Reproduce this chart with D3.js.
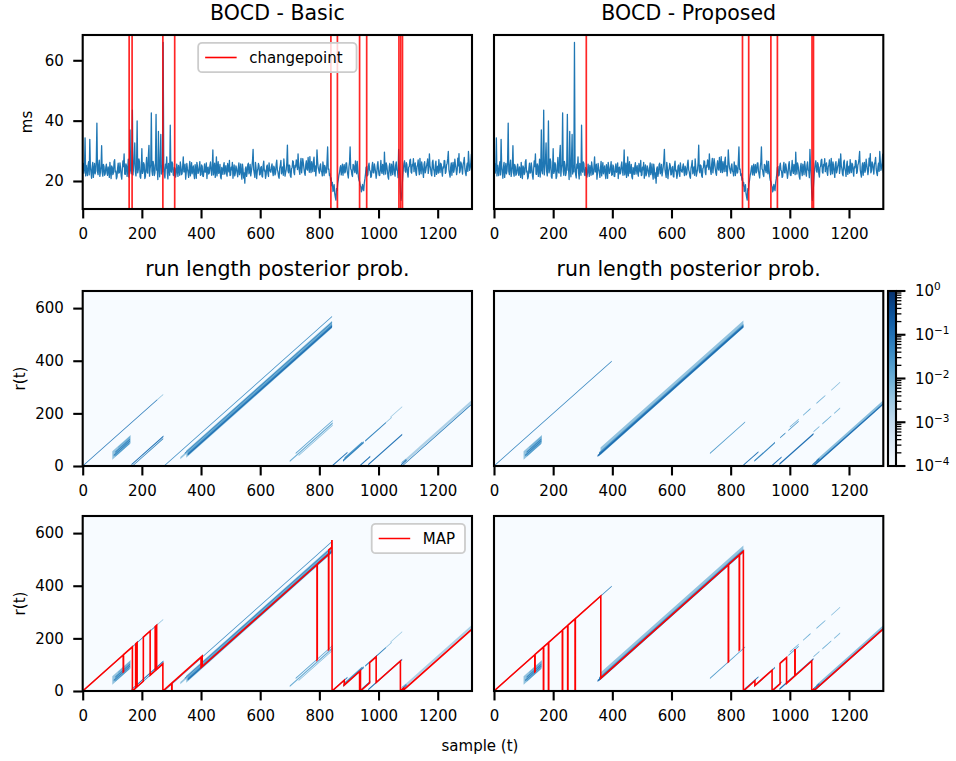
<!DOCTYPE html>
<html><head><meta charset="utf-8">
<script src="https://cdn.jsdelivr.net/npm/d3@7"></script>
<style>body{margin:0;background:#fff;} svg{display:block;}</style>
</head><body><svg id="chart" width="956" height="761"></svg>
<script>
// ---------------- DATA ----------------
const sampleStep = 2; // one stored value every 2 samples
const latency = [
24.1,25.8,22.6,23.9,34.3,21.7,25.2,23.4,21.8,25.1,26.4,22.0,33.8,24.6,22.9,20.9,24.7,26.2,21.2,23.7,25.8,22.4,23.4,26.8,39.2,23.1,22.1,25.3,26.9,21.5,23.0,24.9,31.7,22.8,21.6,25.5,24.8,21.9,22.3,24.4,
25.6,22.8,21.9,24.7,23.7,21.2,26.2,23.5,20.8,25.0,24.5,22.1,22.7,26.4,27.1,23.0,23.3,20.7,21.4,24.2,25.9,22.6,22.8,26.0,24.3,21.8,20.6,23.9,26.7,24.8,29.0,22.3,22.2,25.7,25.1,21.5,23.6,27.2,21.3,23.8,
36.9,23.5,22.4,25.9,43.5,22.0,24.6,26.8,32.6,23.2,21.7,24.9,39.9,22.7,23.8,27.3,26.3,21.4,20.9,24.0,30.7,22.5,23.1,26.1,25.4,20.8,21.5,24.6,27.8,22.9,22.6,28.4,31.8,21.6,24.2,25.4,42.6,23.3,21.9,26.5,
25.3,21.8,22.7,26.0,42.1,23.6,23.9,20.5,36.4,24.7,21.4,26.9,35.4,22.3,24.8,23.0,65.9,25.2,22.1,21.0,25.6,24.3,28.0,22.6,20.7,25.8,24.4,21.9,38.5,23.4,22.9,26.3,25.7,22.0,21.8,24.5,24.1,21.3,22.5,25.6,
23.6,21.5,25.2,23.8,21.9,26.3,24.7,22.1,22.4,24.9,28.0,23.0,23.1,25.6,20.6,22.8,25.8,24.0,22.9,21.2,24.3,26.5,21.7,23.7,26.1,22.4,23.5,25.0,22.2,20.8,25.4,23.9,20.9,26.2,24.8,22.5,23.0,24.6,26.4,21.9,
22.1,25.3,24.9,21.6,21.5,23.8,25.7,22.9,23.2,26.0,20.8,24.2,24.6,22.3,22.7,25.1,26.3,23.6,21.9,24.7,30.3,22.0,23.4,25.9,21.2,23.3,28.0,21.7,24.1,26.4,22.5,23.1,25.5,21.4,20.7,24.5,23.8,22.2,24.9,26.1,
22.3,24.0,25.1,22.5,21.6,25.8,24.4,23.0,26.8,21.8,22.0,24.6,23.7,26.2,20.9,23.4,25.3,21.7,22.6,25.0,24.2,22.8,21.4,24.3,26.0,22.1,23.1,25.7,22.4,20.6,25.6,23.9,21.0,22.7,19.3,24.1,24.7,21.5,22.8,25.4,
25.9,22.4,23.3,25.5,21.7,23.1,24.6,26.7,30.5,23.8,22.5,21.2,26.2,24.4,20.8,23.0,23.9,25.8,25.1,22.0,22.2,24.5,24.8,21.6,21.3,25.2,26.6,23.3,23.6,20.9,22.0,24.8,25.3,22.6,21.5,26.0,24.0,23.2,22.9,24.7,
25.7,23.1,21.8,24.9,24.3,22.0,22.6,25.6,26.9,23.7,23.0,21.5,20.9,24.3,25.2,26.8,22.4,23.5,24.7,21.9,27.3,24.6,21.6,22.8,23.8,26.1,31.9,23.4,22.7,25.3,25.0,21.7,21.2,24.1,24.5,26.7,26.4,22.9,22.1,25.2,
24.6,27.0,26.2,23.8,29.0,25.1,23.4,22.2,25.8,27.5,22.7,24.8,27.4,25.9,24.1,22.6,21.9,25.4,26.7,23.9,23.6,27.8,25.3,22.9,28.1,24.3,22.8,26.4,24.9,23.1,26.5,27.9,23.2,25.0,21.7,24.2,30.3,26.6,24.4,23.5,
22.6,24.8,25.7,23.3,23.0,21.7,26.3,24.6,21.8,25.2,24.5,22.6,22.9,26.8,31.3,23.9,24.0,21.8,22.4,20.3,21.0,18.4,19.5,16.5,17.2,18.8,15.8,14.6,13.7,17.5,16.9,19.2,20.4,21.9,22.8,24.3,25.1,22.0,23.5,25.6,
21.9,24.2,25.4,22.7,23.1,25.9,26.0,23.4,22.2,21.0,24.6,26.3,31.3,24.0,23.7,22.1,21.5,25.5,25.2,23.6,22.8,26.7,24.1,22.4,26.5,23.8,21.4,20.2,19.8,18.6,18.2,16.4,17.0,18.9,17.6,16.8,19.4,20.7,22.3,24.5,
24.8,21.7,22.0,25.0,25.9,23.6,23.3,21.2,21.6,24.9,26.2,22.8,22.7,25.7,24.4,23.0,20.9,22.5,25.3,26.4,23.5,21.9,21.8,24.1,26.8,23.2,22.5,25.5,24.0,22.1,29.6,24.3,22.3,26.0,25.1,23.4,21.4,20.6,24.7,25.8,
23.2,21.8,25.6,24.0,22.1,26.5,24.9,22.7,21.6,25.3,26.3,23.6,23.4,21.1,30.5,24.8,22.0,16.2,13.6,15.0,18.5,21.7,24.2,25.8,26.7,23.3,22.9,26.1,25.4,22.4,21.3,24.6,24.8,26.9,27.2,23.0,22.6,25.5,25.0,27.4,
23.1,25.2,26.0,22.8,21.9,24.7,25.3,27.0,23.7,22.1,27.5,24.4,22.4,26.3,24.8,23.0,21.2,25.6,26.4,22.7,23.6,24.9,25.8,27.3,22.5,23.9,29.0,25.1,24.1,22.3,21.7,26.2,26.9,24.0,23.3,21.5,25.2,26.6,22.2,24.3,
24.9,22.6,27.1,24.2,22.8,25.9,25.5,23.1,21.6,24.7,24.3,26.8,26.7,22.5,23.0,25.3,25.9,27.4,29.8,23.7,22.4,21.3,24.6,26.0,21.9,24.5,26.2,22.9,23.8,27.2,25.4,24.1,22.1,23.6,27.6,25.0,29.1,22.7,23.4,26.3,
25.7,23.9,22.3,25.4,26.4,27.8,24.0,22.6,21.8,24.8,25.9,23.2,29.8,26.5,23.5,24.4,26.1,28.9,22.7
];
const cpBasic = [157,167,271,311,839,861,936,960,1069,1075,1081];
const cpProposed = [312,840,861,936,958,1075,1080];

// run-length posterior streaks: [run start, t from, t to, probability, half spread (run units)]
const heatBasic = [
[300,330,360,0.004,4],[305,350,843,0.004,14],[309,355,843,0.02,7],[297,345,843,0.04,2.5],
[0,252,272,0.004,2],[0,0,252,0.07,2],
[60,100,162,0.004,16],[50,120,160,0.01,3],[58,110,160,0.04,3],[65,105,160,0.05,3],[72,110,158,0.02,3],
[168,170,272,0.04,2],[160,165,273,0.09,2.5],
[275,275,843,0.035,2],[312,355,843,0.1,3.5],
[682,700,845,0.01,3],[672,720,845,0.015,2],[690,730,845,0.006,2],
[843,843,895,0.09,2.5],[855,885,945,0.02,3],[860,880,950,0.05,4],
[936,938,972,0.09,2.5],[960,965,1080,0.09,3],
[860,955,1025,0.05,2.5],[860,1025,1045,0.005,2],[855,1040,1080,0.003,2],
[1066,1078,1092,0.03,2],[1072,1076,1095,0.08,3],
[1070,1090,1316,0.002,6],[1080,1082,1316,0.06,2]
];
const heatProposed = [
[304,360,843,0.004,14],[310,355,843,0.025,7],[0,0,398,0.05,2],
[60,100,162,0.004,16],[50,120,160,0.01,3],[58,110,160,0.04,3],[65,105,160,0.05,3],[72,110,158,0.02,3],
[312,350,843,0.12,3.5],[682,730,849,0.02,2],
[840,843,894,0.09,2.5],[861,880,950,0.05,3],
[938,940,972,0.09,2.5],[958,965,1080,0.1,3],
[860,967,985,0.04,2],[860,995,1030,0.03,2],
[852,1000,1030,0.01,2],[852,1045,1070,0.01,2],[852,1090,1120,0.008,2],[852,1140,1170,0.005,2],
[950,1080,1100,0.01,2],[950,1110,1140,0.01,2],[950,1150,1170,0.006,2],
[1072,1076,1100,0.08,3],
[1074,1090,1316,0.005,8],[1080,1082,1316,0.1,3.5]
];
// MAP run length path vertices [t, r]
const mapBasic = [
[0,0],[137,137],[137,73],[138,74],[138,138],[168,168],[168,0],[179,11],[179,179],[184,184],[184,16],
[205,37],[205,205],[228,228],[228,60],[245,77],[245,245],[250,250],[250,82],[271,103],[271,0],
[301,30],[301,0],[302,0],[302,31],[400,129],[400,89],[402,91],[402,131],[404,133],[404,93],
[792,481],[792,118],[793,119],[793,482],[831,520],[831,157],[832,158],[832,536],[842,546],[842,571],[843,571],[843,0],
[884,41],[884,22],[936,74],[936,0],[937,0],[937,75],[939,77],[939,0],[970,31],[970,108],[992,130],[992,32],
[1074,114],[1074,0],[1085,11],[1085,4],[1316,235]
];
const mapProposed = [
[0,0],[138,138],[138,73],[139,74],[139,139],[167,167],[167,0],[168,0],[168,168],[184,184],[184,0],[185,0],
[185,185],[231,231],[231,0],[232,0],[232,232],[249,249],[249,0],[250,0],[250,250],[274,274],[274,0],[275,0],
[275,275],[361,361],[361,49],[792,480],[792,111],[793,112],[793,481],[829,517],[829,156],[830,157],[830,518],
[843,531],[843,0],[882,39],[882,21],[940,79],[940,0],[967,27],[967,105],[989,127],[989,29],[1017,57],
[1017,157],[1018,157],[1018,58],[1074,114],[1074,0],[1080,6],[1080,0],[1316,236]
];
const xTicks = [0,200,400,600,800,1000,1200];
const msTicks = [20,40,60];
const rTicks = [0,200,400,600];
const cbExponents = [0,-1,-2,-3,-4];
const colTitles = ["BOCD - Basic","BOCD - Proposed"];
const heatTitle = "run length posterior prob.";

// ---------------- LAYOUT ----------------
const FONT = "DejaVu Sans, sans-serif";
const T_MAX = 1316, R_MAX = 665, MS_MIN = 10.72, MS_MAX = 68.38;
const cols = [{x0:82.7,x1:472},{x0:494,x1:883.3}];
const rows = [{y0:35,y1:209},{y0:291,y1:466},{y0:516,y1:691}];
const TICK = 9.45, PAD = 9.45, SPINE = 2.1, TICKFS = 15;

const svg = d3.select("#chart");
const defs = svg.append("defs");
const color = d3.scaleSequentialLog(d3.interpolateBlues).domain([1e-4,1]).clamp(true);

function styleAxis(g){
  g.attr("font-family",null).attr("font-size",null);
  g.select(".domain").remove();
  g.selectAll(".tick line").attr("stroke","#000").attr("stroke-width",SPINE);
  g.selectAll(".tick text").attr("font-family",FONT).attr("font-size",TICKFS).attr("fill","#000");
}

function makePanel(ci, ri){
  const c = cols[ci], r = rows[ri];
  const id = "clip"+ci+ri;
  defs.append("clipPath").attr("id",id).append("rect")
    .attr("x",c.x0).attr("y",r.y0).attr("width",c.x1-c.x0).attr("height",r.y1-r.y0);
  const x = d3.scaleLinear().domain([0,T_MAX]).range([c.x0,c.x1]);
  const g = svg.append("g");
  const plot = g.append("g").attr("clip-path",`url(#${id})`);
  return {c,r,x,g,plot};
}

function finishPanel(p, y, yTicks){
  p.g.append("g").attr("transform",`translate(0,${p.r.y1})`)
    .call(d3.axisBottom(p.x).tickValues(xTicks).tickSize(TICK).tickPadding(PAD).tickFormat(d3.format("d")))
    .call(styleAxis);
  if (yTicks){
    p.g.append("g").attr("transform",`translate(${p.c.x0},0)`)
      .call(d3.axisLeft(y).tickValues(yTicks).tickSize(TICK).tickPadding(PAD).tickFormat(d3.format("d")))
      .call(styleAxis);
  }
  p.g.append("rect").attr("x",p.c.x0).attr("y",p.r.y0)
    .attr("width",p.c.x1-p.c.x0).attr("height",p.r.y1-p.r.y0)
    .attr("fill","none").attr("stroke","#000").attr("stroke-width",SPINE);
}

function legend(p, label, cx, anchorRight){
  const w = anchorRight ? 93.3 : 158.4, h = 29.4;
  const x0 = anchorRight ? p.c.x1 - 7 - w : cx - w/2;
  const y0 = p.r.y0 + 7.8;
  const lg = p.g.append("g");
  lg.append("rect").attr("x",x0).attr("y",y0).attr("width",w).attr("height",h).attr("rx",4)
    .attr("fill","rgba(255,255,255,0.8)").attr("stroke","#cccccc").attr("stroke-width",1.8);
  lg.append("line").attr("x1",x0+7).attr("x2",x0+38.5).attr("y1",y0+h/2).attr("y2",y0+h/2)
    .attr("stroke","red").attr("stroke-width",1.6);
  lg.append("text").attr("x",x0+51).attr("y",y0+h/2).attr("dy","0.35em")
    .attr("font-family",FONT).attr("font-size",TICKFS).text(label);
}

// ---- row 1: series with changepoints
const yMs = d3.scaleLinear().domain([MS_MIN,MS_MAX]).range([rows[0].y1,rows[0].y0]);
[cpBasic,cpProposed].forEach((cps,ci)=>{
  const p = makePanel(ci,0);
  const line = d3.line().x((d,i)=>p.x(i*sampleStep)).y(d=>yMs(d));
  p.plot.append("path").datum(latency).attr("d",line).attr("fill","none")
    .attr("stroke","#1f77b4").attr("stroke-width",1.3).attr("stroke-linejoin","round");
  p.plot.selectAll("line.cp").data(cps).join("line")
    .attr("x1",d=>p.x(d)).attr("x2",d=>p.x(d)).attr("y1",p.r.y0).attr("y2",p.r.y1)
    .attr("stroke","red").attr("stroke-opacity",0.85).attr("stroke-width",1.7);
  finishPanel(p, yMs, ci===0?msTicks:null);
  p.g.append("text").attr("x",(p.c.x0+p.c.x1)/2).attr("y",p.r.y0-15.5).attr("text-anchor","middle")
    .attr("font-family",FONT).attr("font-size",20.5).text(colTitles[ci]);
  if (ci===0) legend(p,"changepoint",(p.c.x0+p.c.x1)/2,false);
});

// ---- rows 2-3: heatmaps (+ MAP)
function drawHeat(p, streaks, y){
  p.plot.append("rect").attr("x",p.c.x0).attr("y",p.r.y0).attr("width",p.c.x1-p.c.x0)
    .attr("height",p.r.y1-p.r.y0).attr("fill",color(1e-4));
  const sorted = streaks.slice().sort((a,b)=>a[3]-b[3]);
  const band = d3.line().x(d=>p.x(d[0])).y(d=>y(d[1]));
  p.plot.selectAll("path.streak").data(sorted).join("path")
    .attr("d",d=>{
      const [s,t0,t1,,hw]=d;
      return band([[t0,t0-s-hw],[t1,t1-s-hw],[t1,t1-s+hw],[t0,t0-s+hw]])+"Z";
    })
    .attr("fill",d=>color(d[3]));
}
[[heatBasic,mapBasic],[heatProposed,mapProposed]].forEach(([hs,mp],ci)=>{
  for (let ri=1; ri<=2; ri++){
    const p = makePanel(ci,ri);
    const y = d3.scaleLinear().domain([0,R_MAX]).range([p.r.y1,p.r.y0]);
    drawHeat(p, hs, y);
    if (ri===2){
      p.plot.append("path").datum(mp)
        .attr("d",d3.line().x(d=>p.x(d[0])).y(d=>y(d[1])))
        .attr("fill","none").attr("stroke","red").attr("stroke-width",1.6).attr("stroke-linejoin","miter");
    }
    finishPanel(p, y, ci===0?rTicks:null);
    if (ri===1){
      p.g.append("text").attr("x",(p.c.x0+p.c.x1)/2).attr("y",p.r.y0-15.5).attr("text-anchor","middle")
        .attr("font-family",FONT).attr("font-size",20.5).text(heatTitle);
    }
    if (ri===2 && ci===0) legend(p,"MAP",0,true);
  }
});

// ---- colorbar
const cb = {x0:888,x1:896,y0:291,y1:466};
const grad = defs.append("linearGradient").attr("id","cbgrad").attr("x1",0).attr("y1",0).attr("x2",0).attr("y2",1);
d3.range(0,41).forEach(i=>grad.append("stop").attr("offset",i/40).attr("stop-color",d3.interpolateBlues(1-i/40)));
svg.append("rect").attr("x",cb.x0).attr("y",cb.y0).attr("width",cb.x1-cb.x0).attr("height",cb.y1-cb.y0)
  .attr("fill","url(#cbgrad)");
const cbScale = d3.scaleLog().domain([1e-4,1]).range([cb.y1,cb.y0]);
const minor = [];
cbExponents.slice(1).forEach(e=>{ for(let m=2;m<=9;m++) minor.push(m*Math.pow(10,e)); });
svg.append("g").selectAll("line").data(minor).join("line")
  .attr("x1",cb.x1).attr("x2",cb.x1+5.4).attr("y1",d=>cbScale(d)).attr("y2",d=>cbScale(d))
  .attr("stroke","#000").attr("stroke-width",1.3);
const cbMajor = svg.append("g").selectAll("g").data(cbExponents).join("g")
  .attr("transform",d=>`translate(0,${cbScale(Math.pow(10,d))})`);
cbMajor.append("line").attr("x1",cb.x1).attr("x2",cb.x1+TICK).attr("stroke","#000").attr("stroke-width",SPINE);
const cbText = cbMajor.append("text").attr("x",cb.x1+TICK+PAD).attr("dy","0.35em")
  .attr("font-family",FONT).attr("font-size",15);
cbText.append("tspan").text("10");
cbText.append("tspan").attr("dy","-0.55em").attr("font-size",10.5).text(d=>d===0?"0":"\u2212"+(-d));
svg.append("rect").attr("x",cb.x0).attr("y",cb.y0).attr("width",cb.x1-cb.x0).attr("height",cb.y1-cb.y0)
  .attr("fill","none").attr("stroke","#000").attr("stroke-width",SPINE);

// ---- axis labels
svg.append("text").attr("transform",`translate(32,${(rows[0].y0+rows[0].y1)/2}) rotate(-90)`)
  .attr("text-anchor","middle").attr("font-family",FONT).attr("font-size",TICKFS).text("ms");
[1,2].forEach(ri=>{
  svg.append("text").attr("transform",`translate(25,${(rows[ri].y0+rows[ri].y1)/2}) rotate(-90)`)
    .attr("text-anchor","middle").attr("font-family",FONT).attr("font-size",TICKFS).text("r(t)");
});
svg.append("text").attr("x",480).attr("y",751).attr("text-anchor","middle")
  .attr("font-family",FONT).attr("font-size",TICKFS).text("sample (t)");
</script></body></html>
